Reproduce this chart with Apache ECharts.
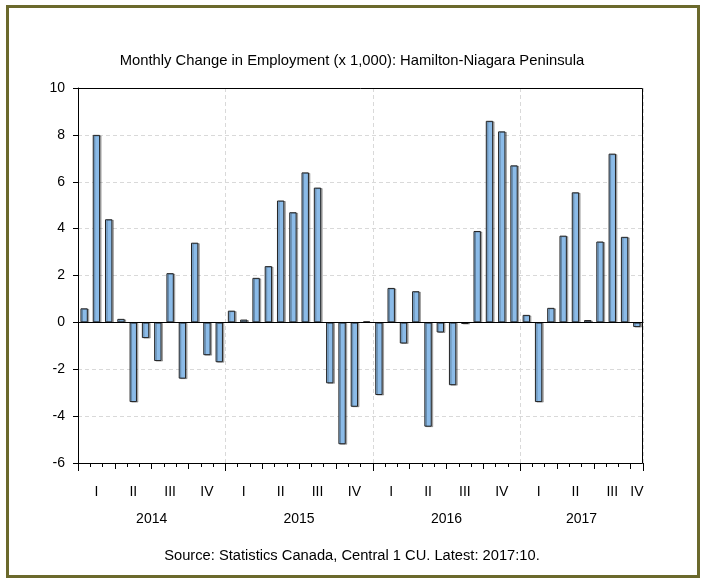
<!DOCTYPE html>
<html>
<head>
<meta charset="utf-8">
<script src="https://cdn.jsdelivr.net/npm/echarts@6/dist/echarts.min.js"></script>
<style>
  html, body { margin: 0; padding: 0; background: #ffffff; }
  #chart { width: 704px; height: 581px; }
</style>
</head>
<body>
<div id="chart"></div>
<script>
// Monthly employment change (thousands), Jan 2014 – Oct 2017
const months = [
  '2014-01','2014-02','2014-03','2014-04','2014-05','2014-06','2014-07','2014-08','2014-09','2014-10','2014-11','2014-12',
  '2015-01','2015-02','2015-03','2015-04','2015-05','2015-06','2015-07','2015-08','2015-09','2015-10','2015-11','2015-12',
  '2016-01','2016-02','2016-03','2016-04','2016-05','2016-06','2016-07','2016-08','2016-09','2016-10','2016-11','2016-12',
  '2017-01','2017-02','2017-03','2017-04','2017-05','2017-06','2017-07','2017-08','2017-09','2017-10'
];
const employmentChange = [
  0.6, 8.0, 4.4, 0.15, -3.4, -0.67, -1.65, 2.1, -2.4, 3.4, -1.4, -1.7,
  0.5, 0.12, 1.9, 2.4, 5.2, 4.7, 6.4, 5.75, -2.6, -5.2, -3.6, 0.04,
  -3.1, 1.47, -0.9, 1.33, -4.45, -0.43, -2.68, -0.07, 3.9, 8.6, 8.15, 6.7,
  0.32, -3.4, 0.62, 3.7, 5.55, 0.1, 3.45, 7.2, 3.65, -0.2
];
const quarterNames = ['I', 'II', 'III', 'IV'];
const yearLabels = ['2014', '2015', '2016', '2017'];
const yTicks = { min: -6, max: 10, step: 2 };

const FONT = '"Liberation Sans", Arial, sans-serif';
const n = months.length;

// Plot area (pixels) shared by the grid and its frame
const plot = { left: 78, right: 61, top: 88, bottom: 118 };
const W = 704, H = 581;

// Month-count where each year's span is centred (last year is partial)
const yearCentres = yearLabels.map((y) => {
  const idx = months.map((m, i) => m.startsWith(y) ? i : -1).filter(i => i >= 0);
  return (idx[0] + idx[idx.length - 1] + 1) / 2;
});

// Quarter numeral placed under the middle month of each (possibly partial) quarter
function quarterLabel(value, index) {
  const yr = months[index].slice(0, 4);
  const mon = parseInt(months[index].slice(5), 10);
  const q = Math.floor((mon - 1) / 3);
  const inQuarter = months.filter(m => m.slice(0, 4) === yr &&
    Math.floor((parseInt(m.slice(5), 10) - 1) / 3) === q).length;
  const mid = q * 3 + 1 + Math.floor((inQuarter - 1) / 2);
  return mon === mid ? quarterNames[q] : '';
}

const chart = echarts.init(document.getElementById('chart'), null, { renderer: 'canvas' });

const hiddenValueAxis = (extra) => Object.assign({
  type: 'value', position: 'bottom', min: 0, max: n,
  axisLine: { show: false }, axisLabel: { show: false },
  splitLine: { show: false }, axisTick: { show: false }
}, extra);

const gridLine = { show: true, lineStyle: { color: '#d9d9d9', type: [4, 3], width: 1 } };

chart.setOption({
  backgroundColor: '#ffffff',
  animation: false,
  title: {
    text: 'Monthly Change in Employment (x 1,000): Hamilton-Niagara Peninsula',
    left: 'center', top: 48,
    textStyle: { fontFamily: FONT, fontSize: 14.8, fontWeight: 'normal', color: '#000' }
  },
  graphic: [
    {
      type: 'rect', silent: true, z: -1,
      shape: { x: 7.5, y: 6.5, width: 691, height: 570 },
      style: { fill: 'none', stroke: '#6b692c', lineWidth: 3 }
    },
    // solid frame drawn above the dashed grid lines
    {
      type: 'rect', silent: true, z: 100,
      shape: {
        x: plot.left + 0.5, y: plot.top + 0.5,
        width: W - plot.left - plot.right - 1, height: H - plot.top - plot.bottom
      },
      style: { fill: 'none', stroke: '#000', lineWidth: 1 }
    },
    {
      type: 'text', left: 'center', top: 548,
      style: {
        text: 'Source: Statistics Canada, Central 1 CU. Latest: 2017:10.',
        font: '14.7px ' + FONT, fill: '#000'
      }
    }
  ],
  grid: {
    left: plot.left, right: plot.right, top: plot.top, bottom: plot.bottom,
    show: false
  },
  xAxis: [
    {
      type: 'category', data: months, position: 'bottom', boundaryGap: true,
      axisLine: { show: true, lineStyle: { color: '#000', width: 1 } },
      axisTick: { show: false },
      axisLabel: {
        interval: 0, margin: 22, formatter: quarterLabel,
        fontFamily: FONT, fontSize: 14, color: '#000'
      },
      splitLine: { show: false }
    },
    // month boundary ticks
    hiddenValueAxis({ interval: 1, axisTick: { show: true, length: 4, lineStyle: { color: '#000' } } }),
    // quarter boundary ticks
    hiddenValueAxis({ interval: 3, axisTick: { show: true, length: 6, lineStyle: { color: '#000' } } }),
    // year boundary ticks and vertical grid
    hiddenValueAxis({
      interval: 12,
      axisTick: { show: true, length: 8, lineStyle: { color: '#000' } },
      splitLine: gridLine
    }),
    // year labels centred under each year's months
    hiddenValueAxis({
      interval: 0.5,
      axisLabel: {
        show: true, margin: 49, fontFamily: FONT, fontSize: 14, color: '#000',
        formatter: (v) => {
          const k = yearCentres.findIndex(c => Math.abs(c - v) < 1e-6);
          return k >= 0 ? yearLabels[k] : '';
        }
      }
    })
  ],
  yAxis: {
    type: 'value', min: yTicks.min, max: yTicks.max, interval: yTicks.step,
    axisLine: { show: true, lineStyle: { color: '#000' } },
    axisTick: { show: true, length: 5, lineStyle: { color: '#000' } },
    axisLabel: { margin: 13, fontFamily: FONT, fontSize: 14, color: '#000' },
    splitLine: gridLine
  },
  series: [{
    type: 'bar',
    xAxisIndex: 0,
    data: employmentChange,
    barWidth: '60%',
    itemStyle: {
      color: '#8bbbe8',
      borderColor: '#222',
      borderWidth: 1,
      shadowColor: 'rgba(0,0,0,0.28)',
      shadowOffsetX: 1.5,
      shadowOffsetY: 0.5,
      shadowBlur: 0
    },
    markLine: {
      silent: true, symbol: 'none', label: { show: false },
      lineStyle: { color: '#000', type: 'solid', width: 1 },
      data: [{ yAxis: 0 }]
    }
  }]
});
</script>
</body>
</html>
